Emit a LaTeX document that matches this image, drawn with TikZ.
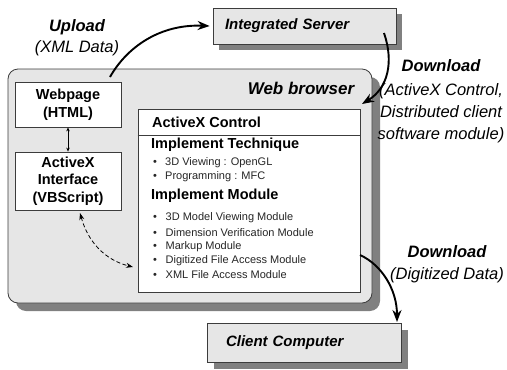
\documentclass[tikz,border=0pt]{standalone}
\usepackage{fontspec}
\setmainfont{Liberation Sans}
\usetikzlibrary{arrows.meta,shadows}
\definecolor{boxc}{HTML}{E6E6E6}
\definecolor{bordc}{HTML}{3C3C3C}
\definecolor{shadc}{HTML}{808080}
\definecolor{bultxt}{HTML}{262626}
\begin{document}
\begin{tikzpicture}[x=1pt,y=-1pt,
  every node/.style={inner sep=0pt},
  greybox/.style={draw=bordc, fill=boxc, line width=0.8pt},
  whitebox/.style={draw=bordc, fill=white, line width=0.8pt},
  shad/.style={drop shadow={shadow xshift=#1, shadow yshift=-#1, fill=shadc, opacity=1}},
  bigarrow/.style={line width=1.9pt, -{Stealth[length=12pt,width=9pt]}},
  smallarrow/.style={line width=0.7pt, {Stealth[length=4pt,width=3.5pt]}-{Stealth[length=4pt,width=3.5pt]}},
  dasharrow/.style={line width=0.8pt, dash pattern=on 4pt off 2.5pt, {Stealth[length=7pt,width=5pt]}-{Stealth[length=7pt,width=5pt]}},
  lab/.style={align=center, font=\fontsize{16.5}{21.5}\selectfont\itshape},
  boxtxt/.style={align=center, font=\fontsize{14.5}{17.5}\selectfont\bfseries},
  head/.style={anchor=west, font=\fontsize{14.5}{17}\selectfont\bfseries},
  bul/.style={anchor=west, text=bultxt, font=\fontsize{11}{13}\selectfont}
]
\useasboundingbox (0,0) rectangle (507,370);

% main boxes
\node[greybox, shad=8pt, rounded corners=10pt, minimum width=364pt, minimum height=234pt] (browser) at (190,186) {};
\node[anchor=center, font=\fontsize{17}{20}\selectfont\bfseries\itshape] (wb) at (301,88) {Web browser};

\node[greybox, shad=6pt, minimum width=183pt, minimum height=36pt, text width=159pt, inner xsep=12pt, inner ysep=0pt, align=left, font=\fontsize{15}{18}\selectfont\bfseries\itshape] (server) at (304.5,26) {Integrated Server};

\node[greybox, shad=7pt, minimum width=194pt, minimum height=39pt, text width=156pt, inner xsep=19pt, inner ysep=0pt, align=left, font=\fontsize{15}{18}\selectfont\bfseries\itshape] (client) at (304,342.5) {Client Computer};

\node[whitebox, boxtxt, minimum width=106pt, minimum height=45pt] (webpage) at (68,104.5) {Webpage\\(HTML)};
\node[whitebox, boxtxt, minimum width=106pt, minimum height=58pt] (iface) at (68,181) {ActiveX\\Interface\\(VBScript)};

\node[whitebox, minimum width=222pt, minimum height=183pt] (control) at (249,200.5) {};
\draw[draw=bordc, line width=0.8pt] (control.west |- 0,135) -- (control.east |- 0,135);

\node[head] (h0) at (152,122) {ActiveX Control};
\node[head] (h1) at (151,145) {Implement Technique};
\node[bul] (t1) at (153,163) {\makebox[12pt][l]{•}3D Viewing : OpenGL};
\node[bul] (t2) at (153,177) {\makebox[12pt][l]{•}Programming : MFC};
\node[head] (h2) at (151,196) {Implement Module};
\node[bul] (m1) at (153,218) {\makebox[12.5pt][l]{•}3D Model Viewing Module};
\node[bul] (m2) at (153,232.5) {\makebox[12.5pt][l]{•}Dimension Verification Module};
\node[bul] (m3) at (153,247) {\makebox[12.5pt][l]{•}Markup Module};
\node[bul] (m4) at (153,261) {\makebox[12.5pt][l]{•}Digitized File Access Module};
\node[bul] (m5) at (153,275) {\makebox[12.5pt][l]{•}XML File Access Module};

% labels
\node[lab] (uplab) at (77,37.5) {\textbf{Upload}\\(XML Data)};
\node[lab, font=\fontsize{16.5}{22}\selectfont\itshape] (dl1lab) at (441,101) {\textbf{Download}\\[2pt](ActiveX Control,\\Distributed client\\software module)};
\node[lab] (dl2lab) at (447,264) {\textbf{Download}\\(Digitized Data)};

% connectors
\coordinate (upS) at (110,77);
\draw[bigarrow] (upS) .. controls (127,47) and (160,24) .. ([xshift=-3pt]server.west);

\coordinate (d1S) at (384,33);
\coordinate (d1E) at (362,104);
\draw[bigarrow] (d1S) .. controls (394,62) and (388,88) .. (d1E);

\coordinate (d2S) at (360,255);
\coordinate (d2E) at (397,322);
\draw[bigarrow] (d2S) .. controls (382,265) and (397,290) .. (d2E);

\draw[smallarrow] (webpage.south) -- (iface.north);

\coordinate (dA) at (80,213);
\coordinate (dB) at (133,267);
\draw[dasharrow] (dA) .. controls (88,242) and (105,260) .. (dB);
\end{tikzpicture}
\end{document}
